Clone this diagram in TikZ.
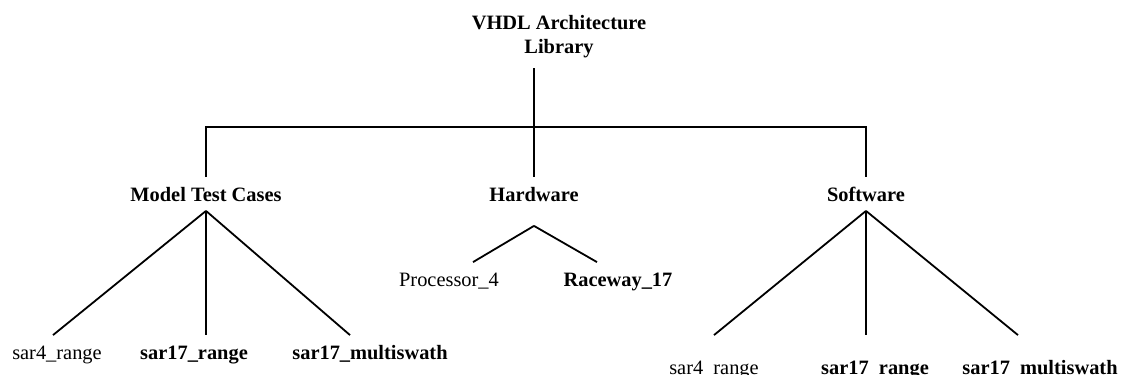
\documentclass[tikz,border=0pt]{standalone}
\usepackage{fontspec}
\setmainfont{Liberation Serif}

\tikzset{
	lbl/.style={anchor=base,inner sep=4.5pt,text height=7pt,text depth=0pt,font=\fontsize{10.2}{12}\selectfont},
	blbl/.style={lbl,font=\fontsize{10.2}{12}\selectfont\bfseries},
	low/.style={inner ysep=12pt}
}

\begin{document}
\begin{tikzpicture}[x=0.5pt,y=-0.5pt,line width=0.9pt]
		\useasboundingbox (0,0) rectangle (1121,375);
		\node[align=center,inner sep=4.5pt,font=\fontsize{10.2}{12}\selectfont\bfseries](lib) at (559,37) {VHDL Architecture\\Library};
		\node[blbl](mtc) at (206,201) {Model Test Cases};
		\node[blbl](hw) at (534,201) {Hardware};
		\node[blbl](sw) at (866,201) {Software};
		\node[lbl](c1) at (57,359) {sar4\_range};
		\node[blbl](c2) at (194,359) {sar17\_range};
		\node[blbl](c3) at (370,359) {sar17\_multiswath};
		\node[lbl](p4) at (449,286) {Processor\_4};
		\node[blbl](r17) at (618,286) {Raceway\_17};
		\node[lbl,low](s1) at (714,374) {sar4\_range};
		\node[blbl,low](s2) at (875,374) {sar17\_range};
		\node[blbl,low](s3) at (1040,374) {sar17\_multiswath};
		\coordinate (hwfork) at ([yshift=-7.5pt]hw.south);
		% top level
		\draw (lib.south -| hw.north)--(hw.north);
		\draw (mtc.north)--++(0,-50)-|(sw.north);
		% model test cases
		\draw (mtc.south)--([xshift=-2pt]c1.north);
		\draw (mtc.south)--(mtc.south |- c2.north);
		\draw (mtc.south)--([xshift=-10pt]c3.north);
		% hardware
		\draw (hwfork)--([xshift=12pt]p4.north);
		\draw (hwfork)--([xshift=-10.5pt]r17.north);
		% software
		\draw (sw.south)--(s1.north);
		\draw (sw.south)--(sw.south |- s2.north);
		\draw (sw.south)--([xshift=-11pt]s3.north);
	\end{tikzpicture}
\end{document}
